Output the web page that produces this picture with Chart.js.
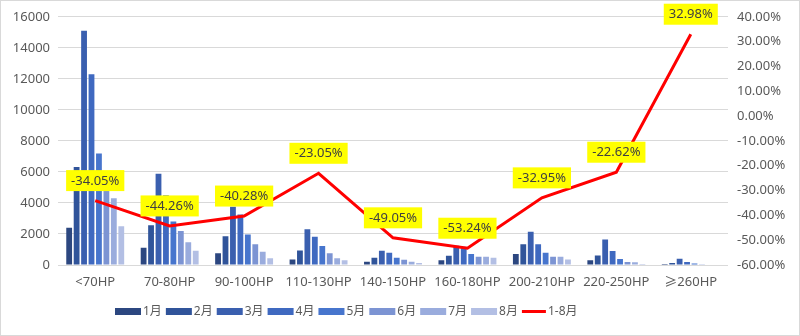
<!DOCTYPE html>
<html>
<head>
<meta charset="utf-8">
<script src="https://cdn.jsdelivr.net/npm/chart.js@4.4.1/dist/chart.umd.min.js"></script>
<style>
  html, body { margin: 0; padding: 0; background: #fff; }
  #wrap { width: 800px; height: 336px; position: relative; }
</style>
</head>
<body>
<div id="wrap"><canvas id="c"></canvas></div>
<script>
// Horsepower bands
const categories = ['<70HP', '70-80HP', '90-100HP', '110-130HP', '140-150HP', '160-180HP', '200-210HP', '220-250HP', '≥260HP'];
const monthNames = ['1月', '2月', '3月', '4月', '5月', '6月', '7月', '8月'];

// Monthly sales per band
const jan = [2400, 1110, 750, 360, 210, 300, 710, 300, 60];
const feb = [6320, 2570, 1860, 940, 470, 600, 1330, 620, 130];
const mar = [15100, 5890, 3750, 2310, 920, 1240, 2140, 1650, 400];
const apr = [12300, 4500, 3260, 1820, 790, 1180, 1330, 900, 190];
const may = [7180, 2800, 1970, 1220, 470, 710, 790, 390, 90];
const jun = [5200, 2190, 1330, 750, 340, 530, 530, 190, 50];
const jul = [4300, 1460, 860, 430, 210, 530, 530, 170, 40];
const aug = [2500, 920, 430, 300, 130, 470, 360, 60, 30];

// Jan-Aug year-on-year change, percent
const ytdLabel = '1-8月';
const ytdChange = [-34.05, -44.26, -40.28, -23.05, -49.05, -53.24, -32.95, -22.62, 32.98];

// Axis ranges
const countAxis = { min: 0, max: 16000, step: 2000 };
const pctAxis = { min: -60, max: 40, step: 10 };

const monthColors = ['#2C4780', '#30549A', '#3A5FAF', '#3F69C0', '#4775CD', '#7C94D3', '#9AACDD', '#B3BFE4'];
const monthSeries = [jan, feb, mar, apr, may, jun, jul, aug];

const FONT = '"Noto Sans", "Noto Sans CJK SC", sans-serif';
Chart.defaults.font.family = FONT;
Chart.defaults.color = '#595959';

const barSets = monthSeries.map((vals, i) => ({
  type: 'bar',
  label: monthNames[i],
  data: vals,
  backgroundColor: monthColors[i],
  borderWidth: 0,
  yAxisID: 'y',
  categoryPercentage: 0.8,
  barPercentage: 0.78,
  order: 1
}));

const lineSet = {
  type: 'line',
  label: ytdLabel,
  data: ytdChange,
  borderColor: '#FF0000',
  backgroundColor: '#FF0000',
  borderWidth: 3,
  pointRadius: 0,
  pointHoverRadius: 0,
  tension: 0,
  yAxisID: 'y1',
  order: 0
};

// White background and thin frame around the canvas
const frame = {
  id: 'frame',
  beforeDraw(chart) {
    const { ctx, width, height } = chart;
    ctx.save();
    ctx.fillStyle = '#fff';
    ctx.fillRect(0, 0, width, height);
    ctx.strokeStyle = '#D9D9D9';
    ctx.lineWidth = 1;
    ctx.strokeRect(0.5, 0.5, width - 1, height - 1);
    ctx.restore();
  }
};

// Compact legend row below the axis: swatch, then series name
const legendRow = {
  id: 'legendRow',
  afterDraw(chart) {
    const ctx = chart.ctx;
    const startX = 115, cy = 311.5;
    ctx.save();
    ctx.font = '12px ' + FONT;
    ctx.textBaseline = 'middle';
    ctx.textAlign = 'left';
    let x = startX;
    chart.data.datasets.forEach(ds => {
      if (ds.type === 'line') {
        ctx.strokeStyle = ds.borderColor;
        ctx.lineWidth = 3;
        ctx.beginPath();
        ctx.moveTo(x, cy);
        ctx.lineTo(x + 24, cy);
        ctx.stroke();
        x += 24;
      } else {
        ctx.fillStyle = ds.backgroundColor;
        ctx.fillRect(x, cy - 3.5, 26, 7);
        x += 26;
      }
      x += 2;
      ctx.fillStyle = '#595959';
      ctx.fillText(ds.label, x, cy);
      x += ctx.measureText(ds.label).width + 4;
    });
    ctx.restore();
  }
};

// Yellow value tags above the line points
const pctTags = {
  id: 'pctTags',
  afterDatasetsDraw(chart) {
    const idx = chart.data.datasets.findIndex(d => d.type === 'line');
    const meta = chart.getDatasetMeta(idx);
    const vals = chart.data.datasets[idx].data;
    const ctx = chart.ctx;
    ctx.save();
    ctx.font = '13px ' + FONT;
    ctx.textAlign = 'center';
    ctx.textBaseline = 'middle';
    meta.data.forEach((pt, i) => {
      const txt = vals[i].toFixed(2) + '%';
      const w = ctx.measureText(txt).width + 10;
      const h = 21;
      const cx = pt.x;
      const cy = pt.y - 9.5 - h / 2;
      ctx.fillStyle = '#FFFF00';
      ctx.fillRect(cx - w / 2, cy - h / 2, w, h);
      ctx.fillStyle = '#404040';
      ctx.fillText(txt, cx, cy + 0.5);
    });
    ctx.restore();
  }
};

new Chart(document.getElementById('c'), {
  type: 'bar',
  data: {
    labels: categories,
    datasets: [...barSets, lineSet]
  },
  options: {
    responsive: true,
    maintainAspectRatio: false,
    animation: false,
    layout: { padding: { top: 16, bottom: 31, left: 0, right: 0 } },
    plugins: {
      legend: { display: false },
      tooltip: { enabled: false }
    },
    scales: {
      x: {
        grid: { display: false, drawTicks: false },
        border: { display: false },
        ticks: { color: '#595959', font: { size: 13 }, padding: 9, maxRotation: 0, autoSkip: false },
        afterFit(s) { s.height = 40; }
      },
      y: {
        position: 'left',
        min: countAxis.min,
        max: countAxis.max,
        ticks: { stepSize: countAxis.step, color: '#595959', font: { size: 13 }, padding: 8, callback: v => String(v) },
        grid: { color: '#D9D9D9', drawTicks: false },
        border: { display: false },
        afterFit(s) { s.width = 58; }
      },
      y1: {
        position: 'right',
        min: pctAxis.min,
        max: pctAxis.max,
        ticks: {
          stepSize: pctAxis.step,
          color: '#595959',
          font: { size: 13 },
          padding: 9,
          callback: v => v.toFixed(2) + '%'
        },
        grid: { display: false, drawTicks: false },
        border: { display: false },
        afterFit(s) { s.width = 72; }
      }
    }
  },
  plugins: [frame, legendRow, pctTags]
});
</script>
</body>
</html>
